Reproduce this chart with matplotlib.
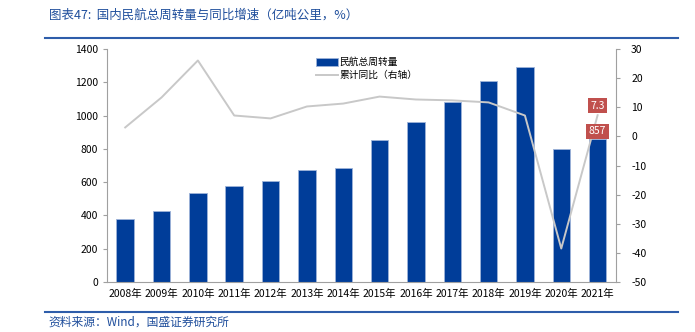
import matplotlib
matplotlib.use("Agg")
import matplotlib.pyplot as plt

plt.rcParams['font.family'] = ['Noto Sans CJK SC', 'DejaVu Sans']
plt.rcParams['axes.unicode_minus'] = False

years = ["2008年", "2009年", "2010年", "2011年", "2012年", "2013年", "2014年",
         "2015年", "2016年", "2017年", "2018年", "2019年", "2020年", "2021年"]
turnover = [377, 429, 538, 577, 610, 672, 684, 852, 963, 1085, 1206, 1293, 799, 857]
yoy = [3.1, 13.4, 26.1, 7.2, 6.2, 10.3, 11.3, 13.7, 12.7, 12.4, 11.7, 7.2, -38.5, 7.3]

BAR = "#003D99"
LINE = "#C8C8C8"
BLUE_TXT = "#1F4E9C"
RED_BOX = "#C0504D"

fig = plt.figure(figsize=(6.95, 3.32), dpi=100)
ax = fig.add_axes([0.154, 0.1506, 0.732, 0.7014])
x = list(range(len(years)))
ax.bar(x, turnover, width=0.48, color=BAR, edgecolor="#9DB3D9", linewidth=0.6,
       label="民航总周转量")
ax.set_ylim(0, 1400)
ax.set_yticks(range(0, 1401, 200))
ax.set_xlim(-0.5, len(years) - 0.5)
ax.set_xticks(x)
ax.set_xticklabels(years, fontsize=7.5)
ax.tick_params(axis="y", labelsize=7.5, length=3, color="#A0A0A0")
ax.tick_params(axis="x", length=0, pad=5)
for s in ["top", "right"]:
    ax.spines[s].set_visible(False)
for s in ["left", "bottom"]:
    ax.spines[s].set_color("#A0A0A0")

ax2 = ax.twinx()
ax2.plot(x, yoy, color=LINE, linewidth=1.4, label="累计同比（右轴）")
ax2.set_ylim(-50, 30)
ax2.set_yticks(range(-50, 31, 10))
ax2.tick_params(axis="y", labelsize=7.5, length=3, color="#A0A0A0", pad=8)
for s in ["top", "left", "bottom"]:
    ax2.spines[s].set_visible(False)
ax2.spines["right"].set_color("#A0A0A0")

# labels on the last point, drawn above the line
box = dict(boxstyle="square,pad=0.25", fc=RED_BOX, ec="none")
ax2.annotate(f"{yoy[-1]}", xy=(x[-1], yoy[-1]), xytext=(x[-1], yoy[-1] + 3.3),
             ha="center", va="center", fontsize=7.5, color="white", bbox=box, zorder=5)
ax2.annotate(f"{turnover[-1]}", xy=(x[-1], turnover[-1]), xytext=(x[-1], turnover[-1] + 50),
             xycoords=ax.transData, textcoords=ax.transData,
             ha="center", va="center", fontsize=7.5, color="white", bbox=box, zorder=5)

h1, l1 = ax.get_legend_handles_labels()
h2, l2 = ax2.get_legend_handles_labels()
ax.legend(h1 + h2, l1 + l2, loc="upper left", bbox_to_anchor=(0.4, 0.99),
          frameon=False, fontsize=7, handlelength=2.2, handleheight=0.8,
          labelspacing=0.3, borderaxespad=0.2, handletextpad=0.2)

fig.text(0.07, 0.955, "图表47:  国内民航总周转量与同比增速（亿吨公里，%）",
         fontsize=9, color=BLUE_TXT, va="center")
fig.add_artist(plt.Line2D([0.065, 0.975], [0.885, 0.885], color="#2E5DAA", linewidth=1.5))
fig.add_artist(plt.Line2D([0.065, 0.975], [0.06, 0.06], color="#2E5DAA", linewidth=1.5))
fig.text(0.07, 0.03, "资料来源：Wind，国盛证券研究所", fontsize=8.5, color=BLUE_TXT, va="center")

fig.savefig("out.png", dpi=100)
